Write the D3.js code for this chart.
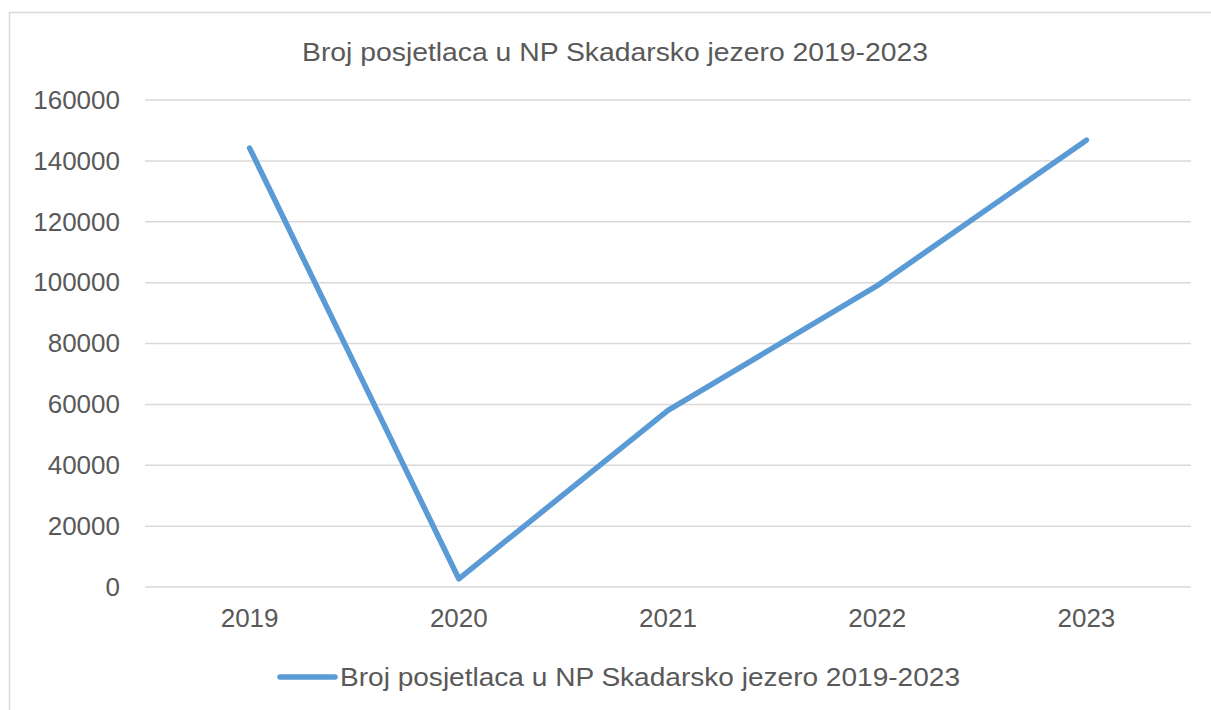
<!DOCTYPE html>
<html><head><meta charset="utf-8">
<script src="https://cdn.jsdelivr.net/npm/d3@7/dist/d3.min.js"></script>
<style>body{margin:0;background:#fff}svg{display:block}text{font-family:"Liberation Sans",Arial,sans-serif;fill:#595959}</style>
</head><body>
<svg id="c" width="1211" height="710"></svg>
<script>
const titleText = "Broj posjetlaca u NP Skadarsko jezero 2019-2023";
const seriesName = "Broj posjetlaca u NP Skadarsko jezero 2019-2023";
const categories = ["2019","2020","2021","2022","2023"];
const values = [144200, 2700, 58000, 99000, 146800];
const yTicks = [0,20000,40000,60000,80000,100000,120000,140000,160000];

const svg = d3.select("#c");
const W = 1211, H = 710;
const m = {left:145, right:1191, top:100, bottom:587};

// chart border
svg.append("path").attr("d", `M9.5,${H} V12.5 H${W}`).attr("fill","none").attr("stroke","#d9d9d9").attr("stroke-width",1.5);

const x = d3.scaleBand().domain(categories).range([m.left, m.right]);
const y = d3.scaleLinear().domain([0,160000]).range([m.bottom, m.top]);

// gridlines
svg.append("g").selectAll("line").data(yTicks).join("line")
  .attr("x1", m.left).attr("x2", m.right)
  .attr("y1", d=>y(d)).attr("y2", d=>y(d))
  .attr("stroke","#d9d9d9").attr("stroke-width",1.5);

// y axis
const yAxis = svg.append("g").attr("transform",`translate(${m.left},0)`)
  .call(d3.axisLeft(y).tickValues(yTicks).tickFormat(d=>String(d)).tickSize(0).tickPadding(25));
yAxis.select(".domain").remove();
yAxis.selectAll("text").style("font-size","26px").attr("fill","#595959");

// x axis
const xAxis = svg.append("g").attr("transform",`translate(0,${m.bottom})`)
  .call(d3.axisBottom(x).tickSize(0).tickPadding(22));
xAxis.select(".domain").remove();
xAxis.selectAll("text").style("font-size","26px").attr("fill","#595959");

// line
const line = d3.line().x((d,i)=>x(categories[i])+x.bandwidth()/2).y(d=>y(d));
svg.append("path").datum(values).attr("d", line)
  .attr("fill","none").attr("stroke","#5B9BD5").attr("stroke-width",5.5)
  .attr("stroke-linejoin","round").attr("stroke-linecap","round");

// title
svg.append("text").attr("x",615).attr("y",61).attr("text-anchor","middle")
  .style("font-size","25px").attr("textLength",626).attr("lengthAdjust","spacingAndGlyphs").text(titleText);

// legend
svg.append("line").attr("x1",280).attr("x2",335).attr("y1",677).attr("y2",677)
  .attr("stroke","#5B9BD5").attr("stroke-width",5.5).attr("stroke-linecap","round");
svg.append("text").attr("x",340).attr("y",686).style("font-size","25px")
  .attr("textLength",620).attr("lengthAdjust","spacingAndGlyphs").text(seriesName);
</script>
</body></html>
